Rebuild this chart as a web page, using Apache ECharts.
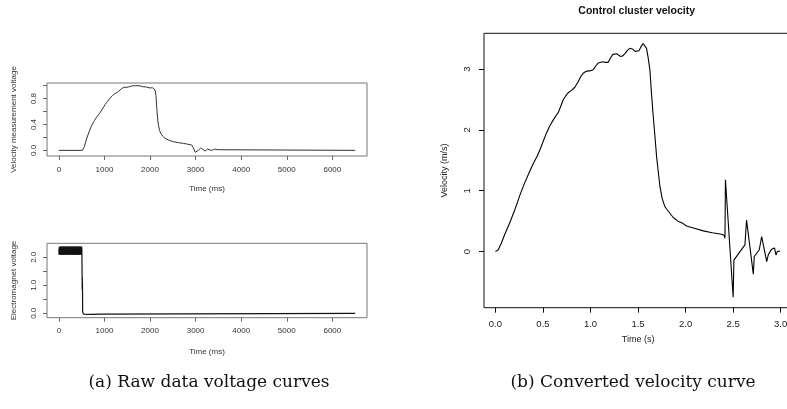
<!DOCTYPE html>
<html><head><meta charset="utf-8">
<script src="https://cdn.jsdelivr.net/npm/echarts@6/dist/echarts.min.js"></script>
<style>html,body{margin:0;padding:0;background:#fff}#c{width:787px;height:409px}</style>
</head><body><div id="c"></div>
<script>
// ---- Panel (a) top: velocity measurement voltage vs time (ms)
const voltTime = [0,517,560,614,670,723,780,833,890,943,1015,1070,1125,1180,1235,1290,1344,1380,1417,1470,1526,1560,1600,1640,1680,1720,1760,1800,1840,1880,1920,1960,2000,2050,2090,2112,2130,2149,2165,2185,2210,2236,2280,2331,2420,2514,2620,2733,2830,2916,2950,2990,3010,3060,3110,3160,3210,3260,3300,3350,3380,3420,3460,3490,3530,6500];
const voltValue = [0,0,0.06,0.19,0.30,0.39,0.46,0.52,0.57,0.625,0.71,0.76,0.81,0.85,0.88,0.90,0.935,0.96,0.975,0.975,0.98,0.99,0.997,0.99,1.0,0.985,1.0,0.995,0.985,0.995,0.98,0.985,0.965,0.97,0.95,0.935,0.85,0.65,0.50,0.39,0.31,0.26,0.22,0.186,0.155,0.134,0.12,0.108,0.095,0.082,0.04,-0.03,-0.045,0.0,0.035,0.015,-0.01,0.02,0.025,0.0,-0.01,0.02,0.0,0.01,0.0,0.0];
// ---- Panel (a) bottom: electromagnet voltage vs time (ms)
const magTime = [
  0,5,10,15,20,25,30,35,40,45,
  50,55,60,65,70,75,80,85,90,95,
  100,105,110,115,120,125,130,135,140,145,
  150,155,160,165,170,175,180,185,190,195,
  200,205,210,215,220,225,230,235,240,245,
  250,255,260,265,270,275,280,285,290,295,
  300,305,310,315,320,325,330,335,340,345,
  350,355,360,365,370,375,380,385,390,395,
  400,405,410,415,420,425,430,435,440,445,
  450,455,460,465,470,475,480,485,490,495,
  500,505,510,512,514,516,518,522,540,700,
  900,920,6500];
const magValue = [
  2.30,2.09,2.38,2.10,2.37,2.08,2.39,2.11,2.38,2.09,
  2.36,2.10,2.39,2.08,2.37,2.11,2.38,2.09,2.39,2.10,
  2.36,2.08,2.38,2.11,2.39,2.09,2.37,2.10,2.38,2.08,
  2.39,2.11,2.36,2.09,2.38,2.10,2.39,2.08,2.37,2.11,
  2.38,2.09,2.39,2.10,2.36,2.08,2.38,2.11,2.39,2.09,
  2.37,2.10,2.38,2.08,2.39,2.11,2.36,2.09,2.38,2.10,
  2.39,2.08,2.37,2.11,2.38,2.09,2.39,2.10,2.36,2.08,
  2.38,2.11,2.39,2.09,2.37,2.10,2.38,2.08,2.39,2.11,
  2.36,2.09,2.38,2.10,2.39,2.08,2.37,2.11,2.38,2.09,
  2.39,2.10,2.36,2.08,2.38,2.11,2.39,2.09,2.37,2.10,
  2.38,2.30,1.40,0.85,1.30,0.90,1.10,0.05,-0.03,-0.04,
  -0.03,0.0,0.0];
// ---- Panel (b): control cluster velocity vs time (s)
const velTime = [0,0.03,0.063,0.10,0.15,0.20,0.256,0.30,0.361,0.40,0.44,0.467,0.50,0.537,0.57,0.607,0.64,0.66,0.69,0.712,0.74,0.765,0.80,0.835,0.87,0.90,0.923,0.95,0.975,1.00,1.028,1.055,1.081,1.10,1.126,1.15,1.17,1.186,1.21,1.235,1.256,1.28,1.31,1.333,1.36,1.39,1.414,1.44,1.47,1.491,1.51,1.535,1.554,1.57,1.589,1.605,1.625,1.64,1.66,1.68,1.695,1.715,1.73,1.754,1.782,1.80,1.835,1.87,1.92,1.975,2.01,2.10,2.186,2.28,2.379,2.404,2.414,2.419,2.50,2.508,2.572,2.624,2.641,2.712,2.722,2.775,2.80,2.853,2.87,2.905,2.915,2.925,2.935,2.95,2.964,2.975,2.993];
const velValue = [0,0.03,0.14,0.29,0.47,0.67,0.92,1.10,1.32,1.45,1.57,1.67,1.80,1.95,2.06,2.16,2.24,2.28,2.40,2.49,2.56,2.61,2.65,2.70,2.79,2.88,2.93,2.96,2.97,2.97,2.99,3.05,3.10,3.12,3.12,3.11,3.10,3.11,3.18,3.24,3.26,3.25,3.21,3.21,3.25,3.31,3.34,3.33,3.29,3.27,3.30,3.38,3.42,3.41,3.34,3.20,2.98,2.62,2.22,1.85,1.56,1.28,1.07,0.87,0.74,0.70,0.63,0.56,0.50,0.46,0.42,0.38,0.34,0.31,0.285,0.27,0.22,1.18,-0.75,-0.14,0.0,0.11,0.52,-0.37,-0.08,0.03,0.245,-0.165,-0.05,0.04,0.07,0.02,0.06,-0.055,0.0,-0.01,0.01];
// ---- Tick positions / labels
const msTicks = [0,1000,2000,3000,4000,5000,6000];
const voltTicks = [0,0.2,0.4,0.6,0.8,1.0];
const voltLabels = [0,0.4,0.8];
const magTicks = [0,0.5,1.0,1.5,2.0];
const magLabels = [0,1,2];
const secTicks = [0,0.5,1.0,1.5,2.0,2.5,3.0];
const velTicks = [0,1,2,3];

const pairs = (xs, ys) => xs.map((x, i) => [x, ys[i]]);
const SANS = '"Liberation Sans", Arial, sans-serif';

function ax(gi, min, max, ticks, labels, fmt, o, isY) {
  return {
    type: 'value', gridIndex: gi, min: min, max: max,
    splitLine: {show: false}, axisLine: {show: false, onZero: false},
    axisTick: {show: true, customValues: ticks, length: o.tickLen, lineStyle: {color: o.col, width: 1}},
    axisLabel: {customValues: labels, formatter: fmt, margin: o.lm, fontSize: o.fs, color: o.tc, fontFamily: SANS, rotate: isY ? 90 : 0},
    name: o.name, nameLocation: 'middle', nameGap: o.ng,
    nameTextStyle: {fontSize: o.nfs, color: o.tc, fontFamily: SANS}
  };
}
const f1 = v => v.toFixed(1);
const f0 = v => v.toFixed(0);
const leftStyle = {col: '#666', tc: '#333', fs: 8, nfs: 8, tickLen: 4};
const rightStyle = {col: '#111', tc: '#222', fs: 9.5, nfs: 9, tickLen: 5};
const gridBase = {show: true, borderWidth: 1, backgroundColor: 'transparent', outerBoundsMode: 'none', containLabel: false};

const chart = echarts.init(document.getElementById('c'), null, {renderer: 'canvas'});
chart.setOption({
  animation: false,
  backgroundColor: '#fff',
  grid: [
    Object.assign({left: 47, top: 83, width: 320, height: 73, borderColor: '#777'}, gridBase),
    Object.assign({left: 47, top: 243.3, width: 320, height: 74.4, borderColor: '#777'}, gridBase),
    Object.assign({left: 484, top: 33.3, width: 308.1, height: 274.4, borderColor: '#111'}, gridBase)
  ],
  xAxis: [
    ax(0, -260, 6760, msTicks, msTicks, f0, Object.assign({name: 'Time (ms)', ng: 29, lm: 10}, leftStyle), false),
    ax(1, -260, 6760, msTicks, msTicks, f0, Object.assign({name: 'Time (ms)', ng: 30, lm: 9.5}, leftStyle), false),
    ax(2, -0.12, 3.12, secTicks, secTicks, f1, Object.assign({name: 'Time (s)', ng: 25, lm: 12}, rightStyle), false)
  ],
  yAxis: [
    ax(0, -0.087, 1.042, voltTicks, voltLabels, f1, Object.assign({name: 'Velocity measurement voltage', ng: 29, lm: 9.5}, leftStyle), true),
    ax(1, -0.157, 2.5, magTicks, magLabels, f1, Object.assign({name: 'Electromagnet voltage', ng: 29, lm: 9.5}, leftStyle), true),
    ax(2, -0.922, 3.587, velTicks, velTicks, f0, Object.assign({name: 'Velocity (m/s)', ng: 34.5, lm: 11.5}, rightStyle), true)
  ],
  series: [
    {type: 'line', xAxisIndex: 0, yAxisIndex: 0, data: pairs(voltTime, voltValue), showSymbol: false, lineStyle: {color: '#333', width: 1}},
    {type: 'line', xAxisIndex: 1, yAxisIndex: 1, data: pairs(magTime, magValue), showSymbol: false, lineStyle: {color: '#111', width: 1.2}},
    {type: 'line', xAxisIndex: 2, yAxisIndex: 2, data: pairs(velTime, velValue), showSymbol: false, lineStyle: {color: '#000', width: 1.1}}
  ],
  graphic: [
    {type: 'text', x: 636.7, y: 10.7, style: {text: 'Control cluster velocity', align: 'center', verticalAlign: 'middle', fill: '#111', font: 'bold 10.5px "Liberation Sans", Arial, sans-serif'}},
    {type: 'text', x: 209, y: 383, style: {text: '(a) Raw data voltage curves', align: 'center', verticalAlign: 'middle', fill: '#111', font: '17px "DejaVu Serif", serif'}},
    {type: 'text', x: 633, y: 383, style: {text: '(b) Converted velocity curve', align: 'center', verticalAlign: 'middle', fill: '#111', font: '17px "DejaVu Serif", serif'}}
  ]
});
</script>
</body></html>
